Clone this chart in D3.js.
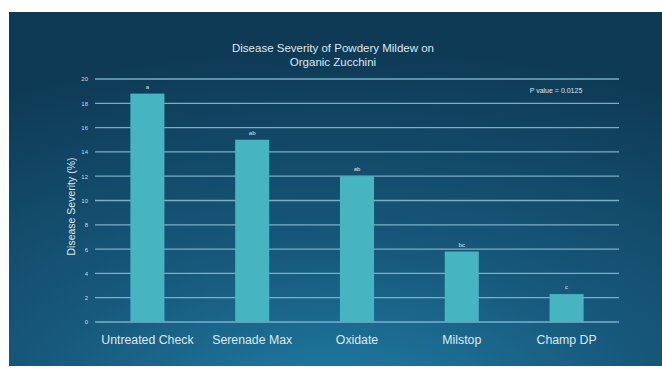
<!DOCTYPE html>
<html>
<head>
<meta charset="utf-8">
<script src="https://cdn.jsdelivr.net/npm/d3@7"></script>
<style>
  html, body { margin: 0; padding: 0; background: #ffffff; }
  svg { display: block; }
</style>
</head>
<body>
<svg id="chart" width="662" height="377"></svg>
<script>
const categories = ["Untreated Check", "Serenade Max", "Oxidate", "Milstop", "Champ DP"];
const values = [18.8, 15.0, 12.0, 5.8, 2.3];
const letters = ["a", "ab", "ab", "bc", "c"];
const yTicks = [0, 2, 4, 6, 8, 10, 12, 14, 16, 18, 20];
const titleLines = ["Disease Severity of Powdery Mildew on", "Organic Zucchini"];
const yTitle = "Disease Severity (%)";
const pValueText = "P value = 0.0125";

const svg = d3.select("#chart");
const panel = { x: 9, y: 12, w: 653, h: 354 };
const plot = { left: 95, right: 619, top: 79, bottom: 322 };
const FONT = "Arial, 'Liberation Sans', sans-serif";

const defs = svg.append("defs");
const grad = defs.append("radialGradient").attr("id", "bg")
  .attr("cx", "0.5").attr("cy", "1.15").attr("r", "1.05");
grad.append("stop").attr("offset", "0").attr("stop-color", "#2180a8");
grad.append("stop").attr("offset", "0.45").attr("stop-color", "#17597c");
grad.append("stop").attr("offset", "1").attr("stop-color", "#0e3a55");

svg.append("rect").attr("x", panel.x).attr("y", panel.y)
  .attr("width", panel.w).attr("height", panel.h).attr("fill", "url(#bg)");

const x = d3.scaleBand().domain(categories).range([plot.left, plot.right]).paddingInner(0.675).paddingOuter(0.3375);
const y = d3.scaleLinear().domain([0, 20]).range([plot.bottom, plot.top]);

// gridlines
svg.append("g").selectAll("line").data(yTicks).join("line")
  .attr("x1", plot.left).attr("x2", plot.right)
  .attr("y1", d => y(d)).attr("y2", d => y(d))
  .attr("stroke", "#86bad1").attr("stroke-width", 1.3).attr("opacity", 0.9);

// y axis tick labels
const yAxis = d3.axisLeft(y).tickValues(yTicks).tickSize(0).tickPadding(7);
const gy = svg.append("g").attr("transform", `translate(${plot.left},0)`).call(yAxis);
gy.select(".domain").remove();
gy.selectAll("text").attr("fill", "#c9dde8").attr("font-family", FONT).attr("font-size", 6);

// bars
svg.append("g").selectAll("rect").data(values).join("rect")
  .attr("x", (d, i) => x(categories[i]))
  .attr("width", x.bandwidth())
  .attr("y", d => y(d))
  .attr("height", d => y(0) - y(d))
  .attr("fill", "#46b4c1");

// letters
svg.append("g").selectAll("text").data(values).join("text")
  .attr("x", (d, i) => x(categories[i]) + x.bandwidth() / 2)
  .attr("y", d => y(d) - 5)
  .attr("text-anchor", "middle")
  .attr("fill", "#d8e8ef")
  .attr("font-family", FONT)
  .attr("font-size", 6)
  .text((d, i) => letters[i]);

// x axis labels
const xAxis = d3.axisBottom(x).tickSize(0).tickPadding(13);
const gx = svg.append("g").attr("transform", `translate(0,${plot.bottom})`).call(xAxis);
gx.select(".domain").remove();
gx.selectAll("text").attr("fill", "#dbe9f0").attr("font-family", FONT).attr("font-size", 12.3);

// title
svg.append("text").attr("x", 333).attr("y", 52).attr("text-anchor", "middle")
  .attr("fill", "#dbe9f0").attr("font-family", FONT).attr("font-size", 11.5)
  .selectAll("tspan").data(titleLines).join("tspan")
  .attr("x", 333).attr("dy", (d, i) => i === 0 ? 0 : 14).text(d => d);

// y axis title
svg.append("text").attr("transform", `translate(75,${(plot.top + plot.bottom) / 2 + 6}) rotate(-90)`)
  .attr("text-anchor", "middle").attr("fill", "#dbe9f0")
  .attr("font-family", FONT).attr("font-size", 10.5)
  .text(yTitle);

// p value
svg.append("text").attr("x", 556).attr("y", 93).attr("text-anchor", "middle")
  .attr("fill", "#d8e8ef").attr("font-family", FONT).attr("font-size", 7)
  .text(pValueText);
</script>
</body>
</html>
